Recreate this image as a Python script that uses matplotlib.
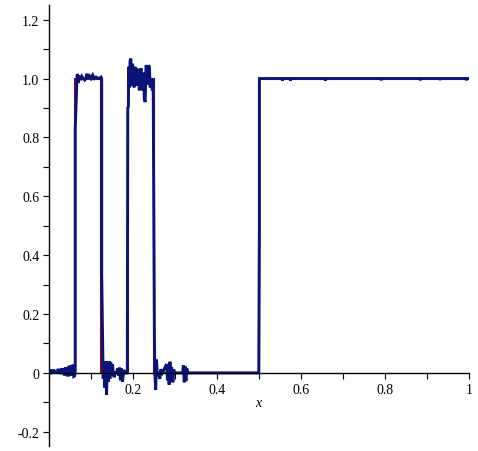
import matplotlib
matplotlib.use("Agg")
import matplotlib.pyplot as plt
from matplotlib.ticker import FixedLocator, MultipleLocator

# exact step function (red)
step_x = [0.0, 0.0625, 0.0625, 0.125, 0.125, 0.1875, 0.1875, 0.25, 0.25, 0.5, 0.5, 1.0]
step_y = [0.0, 0.0, 1.0, 1.0, 0.0, 0.0, 1.0, 1.0, 0.0, 0.0, 1.0, 1.0]

# noisy reconstruction (blue)
approx_x = [
    0.0, 0.005, 0.006, 0.012, 0.013, 0.02, 0.021, 0.026, 0.027, 0.03,
    0.031, 0.035, 0.036, 0.038, 0.039, 0.043, 0.044, 0.046, 0.047, 0.05,
    0.051, 0.053, 0.055, 0.057, 0.059, 0.061, 0.0625,
    0.0625, 0.066, 0.067, 0.069, 0.07, 0.072, 0.076, 0.078, 0.082, 0.085,
    0.088, 0.09, 0.093, 0.096, 0.1, 0.104, 0.108, 0.112, 0.118, 0.124,
    0.1255, 0.1255, 0.128, 0.129,
    0.131, 0.133, 0.135, 0.137, 0.139, 0.141, 0.143, 0.145, 0.147, 0.149,
    0.151, 0.153, 0.155, 0.157, 0.16, 0.164, 0.166, 0.168, 0.170, 0.172,
    0.175, 0.178, 0.181, 0.1865,
    0.1875, 0.189, 0.19, 0.192, 0.193, 0.195, 0.197, 0.199, 0.201, 0.203,
    0.205, 0.207, 0.209, 0.211, 0.213, 0.215, 0.217, 0.219, 0.221, 0.223,
    0.225, 0.227, 0.229, 0.231, 0.233, 0.235, 0.237, 0.239, 0.241, 0.243,
    0.246, 0.248, 0.249, 0.251, 0.252,
    0.254, 0.256, 0.258, 0.26, 0.264, 0.266, 0.27, 0.280, 0.282, 0.284,
    0.286, 0.288, 0.29, 0.292, 0.295, 0.297, 0.299, 0.302, 0.305, 0.31,
    0.318, 0.320, 0.322, 0.324, 0.326, 0.328, 0.331, 0.336,
    0.4995, 0.501, 0.501,
    0.555, 0.556, 0.557, 0.574, 0.575, 0.576, 0.657, 0.658, 0.659,
    0.79, 0.791, 0.792, 0.883, 0.884, 0.885, 0.93, 0.931, 0.932,
    0.993, 0.994, 0.995, 1.0,
]
approx_y = [
    0.0, 0.0, 0.008, 0.008, 0.003, 0.003, 0.01, 0.01, 0.0, 0.0,
    0.012, 0.012, -0.005, -0.005, 0.015, 0.015, -0.008, -0.008, 0.02, 0.02,
    -0.01, 0.025, -0.01, 0.028, -0.012, -0.01, 0.0,
    0.83, 0.97, 1.015, 1.01, 0.985, 1.005, 1.0, 1.008, 1.0, 0.995,
    1.0, 1.016, 1.005, 1.01, 1.0, 1.012, 1.0, 1.005, 1.0, 1.005,
    1.0, 0.337, 0.09, -0.02,
    0.04, -0.05, 0.04, -0.075, 0.035, -0.03, 0.04, -0.02, 0.035, -0.01,
    0.03, 0.0, -0.015, 0.0, 0.0, 0.015, -0.01, 0.018, -0.025, 0.015,
    -0.03, 0.01, 0.0, 0.0,
    0.9, 0.905, 1.04, 0.97, 1.06, 1.068, 0.975, 1.05, 0.98, 0.97,
    1.04, 0.98, 1.035, 0.975, 1.03, 0.96, 1.0, 1.035, 0.99, 0.96,
    1.02, 0.93, 0.92, 1.045, 1.04, 0.98, 1.045, 1.04, 0.97, 1.0,
    0.96, 1.0, 0.7, 0.12, 0.0,
    -0.058, 0.045, -0.01, 0.0, -0.02, 0.012, 0.0, 0.03, -0.025, 0.03,
    -0.04, 0.038, -0.015, 0.02, -0.032, 0.012, 0.0, 0.0, 0.0, 0.0,
    0.0, 0.026, -0.032, 0.022, -0.028, 0.015, 0.0, 0.0,
    0.0, 0.5, 1.0,
    1.0, 0.993, 1.0, 1.0, 0.993, 1.0, 1.0, 0.993, 1.0,
    1.0, 0.994, 1.0, 1.0, 0.994, 1.0, 1.0, 0.995, 1.0,
    1.0, 0.994, 1.0, 1.0,
]

x_ticks = [0.2, 0.4, 0.6, 0.8, 1.0]
x_labels = ["0.2", "0.4", "0.6", "0.8", "1"]
y_ticks = [-0.2, 0.0, 0.2, 0.4, 0.6, 0.8, 1.0, 1.2]
y_labels = ["-0.2", "0", "0.2", "0.4", "0.6", "0.8", "1.0", "1.2"]

plt.rcParams["font.family"] = ["Liberation Serif", "DejaVu Serif"]

fig = plt.figure(figsize=(4.78, 4.52), dpi=100)
ax = fig.add_axes([0.1025, 0.01, 0.8787, 0.9768])

ax.plot(step_x, step_y, color="#8b0a14", linewidth=1.5, solid_joinstyle="miter")
ax.plot(approx_x, approx_y, color="#0a1478", linewidth=2.1, solid_joinstyle="miter")

ax.set_xlim(0, 1)
ax.set_ylim(-0.25, 1.25)

for side in ("top", "right"):
    ax.spines[side].set_visible(False)
ax.spines["left"].set_position(("data", 0))
ax.spines["bottom"].set_position(("data", 0))
for side in ("left", "bottom"):
    ax.spines[side].set_linewidth(1.0)

ax.xaxis.set_major_locator(FixedLocator(x_ticks))
ax.set_xticklabels(x_labels)
ax.xaxis.set_minor_locator(MultipleLocator(0.1))
ax.yaxis.set_major_locator(FixedLocator(y_ticks))
ax.set_yticklabels(y_labels)
ax.yaxis.set_minor_locator(MultipleLocator(0.1))
ax.tick_params(which="both", direction="out", length=4, width=0.8, labelsize=10, pad=3)

ax.text(0.4976, -0.1, "x", style="italic", fontsize=10, ha="center", va="center")

fig.savefig("out.png", dpi=100)
